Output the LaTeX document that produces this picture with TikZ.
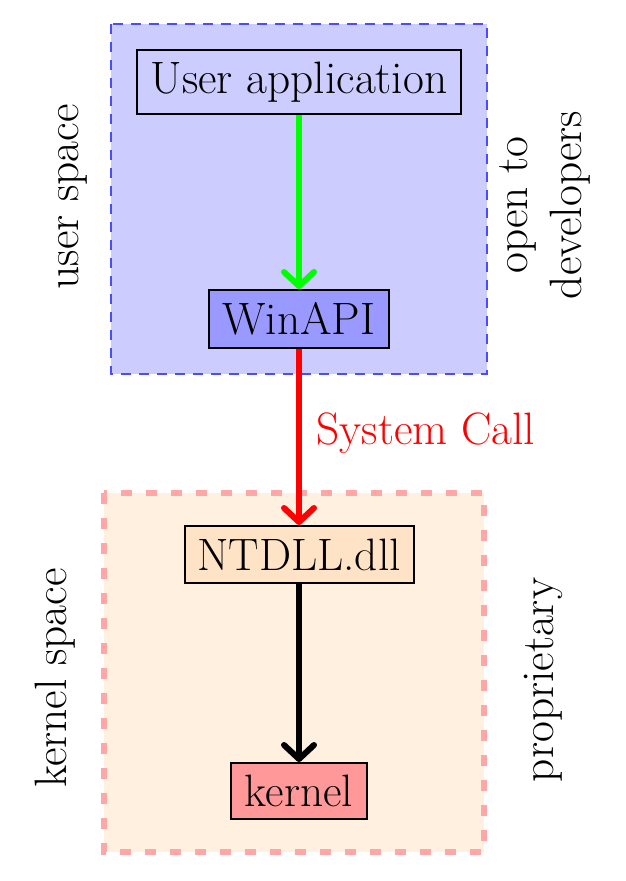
\documentclass[tikz,border=0pt]{standalone}
\usetikzlibrary{arrows.meta}
\begin{document}
\begin{tikzpicture}[x=0.5pt,y=-0.5pt,
  every node/.style={font=\fontsize{22.7}{27}\selectfont},
  box/.style={draw=black,line width=1pt,inner sep=0pt},
  arr/.style={line width=3pt,-{Straight Barb[round,length=7pt,width=15pt]}},
  lab/.style={rotate=90,align=center}]
\useasboundingbox (0,0) rectangle (625,881);
\draw[blue!70,fill=blue!20,line width=1.2pt,dash pattern=on 5pt off 4pt] (111,24) rectangle (487,374);
\draw[red!35,fill=orange!12,line width=3pt,dash pattern=on 5.5pt off 7pt] (104,493) rectangle (484,852);
\node[box,fill=blue!20,minimum width=162pt,minimum height=32pt] (ua) at (299,82) {User application};
\node[box,fill=blue!40,minimum width=90pt,minimum height=29pt] (win) at (299,319) {WinAPI};
\node[box,fill=orange!22,minimum width=114.5pt,minimum height=28.5pt] (nt) at (299,554.5) {NTDLL.dll};
\node[box,fill=red!40,minimum width=68pt,minimum height=28pt] (k) at (299,791) {kernel};
\draw[arr,green] (ua) -- (win);
\draw[arr,red] (win) -- node[right,text=red,xshift=4pt,pos=0.48]{System Call} (nt);
\draw[arr,black] (nt) -- (k);
\node[lab] (us) at (73,197) {user space};
\node[lab] (od) at (545,205) {open to\\developers};
\node[lab] (ks) at (55,678) {kernel space};
\node[lab] (pr) at (543,680) {proprietary};
\end{tikzpicture}
\end{document}
